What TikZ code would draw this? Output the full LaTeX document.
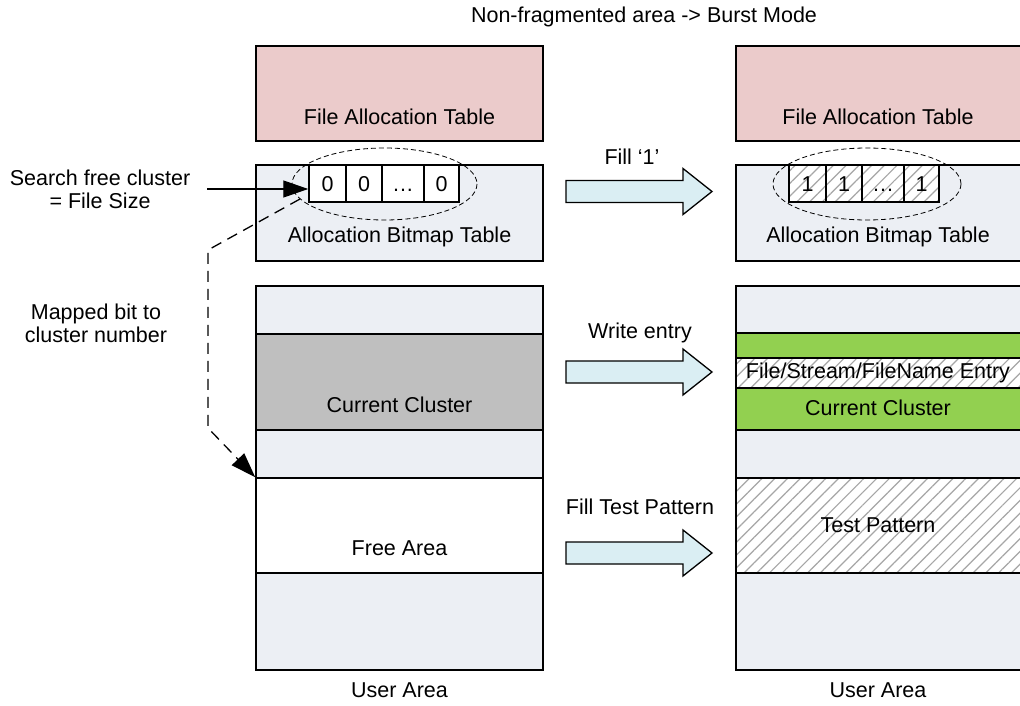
\documentclass[tikz,border=0pt]{standalone}
\usepackage{fontspec}
\setmainfont{Liberation Sans}
\usetikzlibrary{arrows.meta,patterns.meta}
\definecolor{fatpink}{HTML}{EBCBCB}
\definecolor{lightbg}{HTML}{ECEFF4}
\definecolor{ccgray}{HTML}{BFBFBF}
\definecolor{ccgreen}{HTML}{92D050}
\definecolor{arrowfill}{HTML}{DAEEF3}
\begin{document}
\begin{tikzpicture}[x=1pt,y=-1pt,
  every node/.style={font=\fontsize{21.5}{25}\selectfont, inner sep=0pt},
  box/.style={draw=black, line width=1.5pt, minimum width=287pt, inner sep=0pt},
  hatch/.style={preaction={fill=white}, pattern={Lines[angle=45,distance=9pt,line width=1.2pt]}, pattern color=gray!70},
  cell/.style={draw=black, line width=1.5pt, minimum height=37pt, inner sep=0pt, text height=15.4pt, text depth=0pt},
  blockarrow/.style={draw=black, line width=1.3pt, fill=arrowfill, line join=miter},
  conn/.style={line width=1.3pt, -{Triangle[length=25pt,width=17pt]}},
  lbl/.style={align=center, font=\fontsize{21.5}{23}\selectfont}
]
\useasboundingbox (0,0) rectangle (1020,706);

% ---------- Left column ----------
\node[box, fill=fatpink, minimum height=95pt] (fatL) at (399.5,93.5) {};
\node (fatLt) at (399.5,117) {File Allocation Table};
\node[box, fill=lightbg, minimum height=96pt] (abtL) at (399.5,213) {};
\node (abtLt) at (399.5,237) {Allocation Bitmap Table};

\node[box, fill=lightbg, minimum height=48pt] (l1) at (399.5,310) {};
\node[box, fill=ccgray, minimum height=96pt] (lcc) at (399.5,382) {};
\node[box, fill=lightbg, minimum height=48pt] (l2) at (399.5,454) {};
\node[box, fill=white, minimum height=95pt] (lfree) at (399.5,525.5) {};
\node[box, fill=lightbg, minimum height=97pt] (l3) at (399.5,621.5) {};
\node (lcct) at (399.5,405) {Current Cluster};
\node (lfreet) at (399.5,548) {Free Area};
\node (luat) at (399.5,690) {User Area};

% left cells
\node[cell, fill=white, minimum width=37pt] (c1) at (327.5,183.5) {0};
\node[cell, fill=white, minimum width=36pt] (c2) at (364,183.5) {0};
\node[cell, fill=white, minimum width=42pt] (c3) at (403,183.5) {.\kern1pt.\kern1pt.};
\node[cell, fill=white, minimum width=35pt] (c4) at (441.5,183.5) {0};
\draw[dashed, line width=0.8pt, dash pattern=on 5pt off 3pt] (384.5,184) ellipse [x radius=92.5, y radius=36];

% ---------- Right column ----------
\node[box, fill=fatpink, minimum height=95pt] (fatR) at (879.5,93.5) {};
\node (fatRt) at (878,117) {File Allocation Table};
\node[box, fill=lightbg, minimum height=96pt] (abtR) at (879.5,213) {};
\node (abtRt) at (878,237) {Allocation Bitmap Table};

\node[box, fill=lightbg, minimum height=47pt] (r1) at (879.5,309.5) {};
\node[box, fill=ccgreen, minimum height=25pt] (rg1) at (879.5,345.5) {};
\node[box, hatch, minimum height=30pt] (rfe) at (879.5,373) {};
\node[box, fill=ccgreen, minimum height=42pt] (rg2) at (879.5,409) {};
\node[box, fill=lightbg, minimum height=48pt] (r2) at (879.5,454) {};
\node[box, hatch, minimum height=95pt] (rtp) at (879.5,525.5) {};
\node[box, fill=lightbg, minimum height=97pt] (r3) at (879.5,621.5) {};
\node (rfet) at (878,373) {File/Stream/FileName Entry};
\node (rcct) at (878,408) {Current Cluster};
\node (rtpt) at (878,525) {Test Pattern};
\node (ruat) at (878,690) {User Area};

% right cells
\node[cell, hatch, minimum width=37pt] (d1) at (807.5,183.5) {1};
\node[cell, hatch, minimum width=36pt] (d2) at (844,183.5) {1};
\node[cell, hatch, minimum width=42pt] (d3) at (883,183.5) {.\kern1pt.\kern1pt.};
\node[cell, hatch, minimum width=35pt] (d4) at (921.5,183.5) {1};
\draw[dashed, line width=0.8pt, dash pattern=on 5pt off 3pt] (867,184) ellipse [x radius=94, y radius=36];

% ---------- Titles and labels ----------
\node (title) at (644,17) {Non-fragmented area -> Burst Mode};
\node[lbl] (search) at (100,189) {Search free cluster\\= File Size};
\node[lbl] (mapped) at (96,323) {Mapped bit to\\cluster number};

% ---------- Block arrows ----------
\foreach \cy in {191.5, 372, 553}{
  \draw[blockarrow] (566,\cy-11) -- (683,\cy-11) -- (683,\cy-23) -- (712,\cy) -- (683,\cy+23) -- (683,\cy+11) -- (566,\cy+11) -- cycle;
}
\node (fill1) at (632,157) {Fill ‘1’};
\node (wentry) at (640,333) {Write entry};
\node (ftp) at (640,507) {Fill Test Pattern};

% ---------- Connectors ----------
\coordinate (sstart) at (207,189);
\draw[conn] (sstart) -- (c1.west |- sstart);
\coordinate (m1) at (300,199);
\coordinate (m2) at (208,250);
\coordinate (m3) at (208,428);
\draw[conn, dash pattern=on 11pt off 7pt] (m1) -- (m2) -- (m3) -- (lfree.north west);
\end{tikzpicture}
\end{document}
